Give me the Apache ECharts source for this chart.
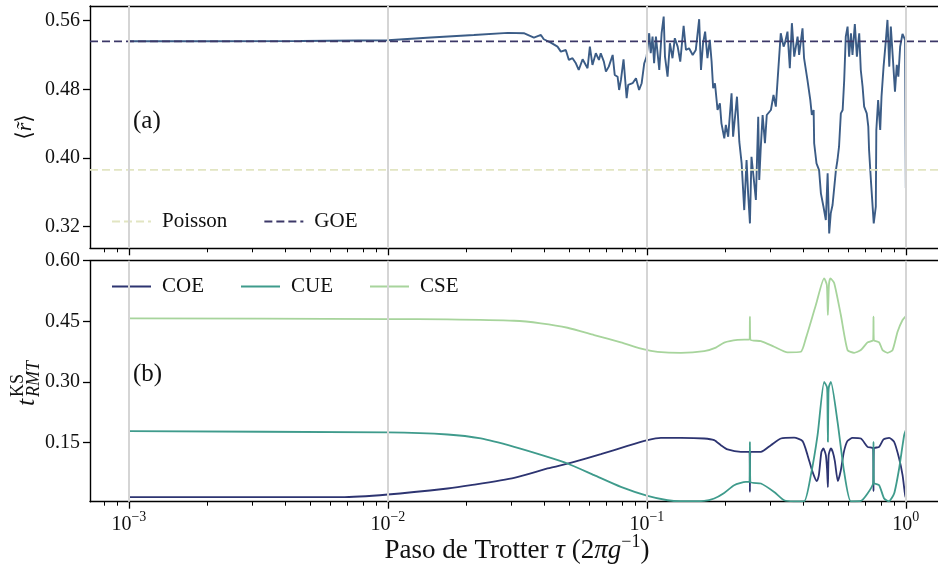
<!DOCTYPE html>
<html><head><meta charset="utf-8">
<script src="https://cdn.jsdelivr.net/npm/echarts@6/dist/echarts.min.js"></script>
<style>html,body{margin:0;padding:0;background:#fff;overflow:hidden;width:938px;height:568px}#c{width:960px;height:568px}</style>
</head><body><div id="c"></div>
<script>
const FONT = '"Liberation Serif", "DejaVu Serif", serif';

// x axis: log10(tau)
const xMin = -3.15, xMax = 0.15;
const xMajor = [-3, -2, -1, 0];
const xMajorExp = ['\u22123', '\u22122', '\u22121', '0'];
const minorFactors = [2, 3, 4, 5, 6, 7, 8, 9];
const decades = [-4, -3, -2, -1];

const yTopTicks = [0.32, 0.40, 0.48, 0.56];
const yBotTicks = [0.15, 0.30, 0.45, 0.60];
const poissonR = 0.3863;
const goeR = 0.5359;

// panel (a): <r~> vs log10(tau)
const rLogTau = [-3.0,-2.722,-2.336,-2.0,-1.834,-1.668,-1.537,-1.475,-1.436,-1.409,
-1.398,-1.371,-1.345,-1.332,-1.313,-1.301,-1.287,-1.274,-1.263,-1.248,
-1.229,-1.220,-1.210,-1.197,-1.185,-1.178,-1.166,-1.158,-1.147,-1.132,
-1.124,-1.113,-1.107,-1.100,-1.090,-1.078,-1.072,-1.055,-1.042,-1.030,
-1.020,-1.010,-1.001,-0.991,-0.985,-0.978,-0.972,-0.965,-0.952,-0.943,
-0.935,-0.930,-0.920,-0.911,-0.901,-0.892,-0.881,-0.871,-0.858,-0.849,
-0.837,-0.823,-0.811,-0.798,-0.791,-0.783,-0.775,-0.766,-0.757,-0.750,
-0.744,-0.737,-0.727,-0.718,-0.712,-0.701,-0.695,-0.686,-0.673,-0.667,
-0.652,-0.643,-0.634,-0.624,-0.615,-0.609,-0.602,-0.596,-0.588,-0.579,
-0.570,-0.566,-0.560,-0.553,-0.544,-0.537,-0.521,-0.511,-0.502,-0.493,
-0.483,-0.472,-0.467,-0.457,-0.448,-0.440,-0.431,-0.418,-0.412,-0.399,
-0.393,-0.380,-0.369,-0.363,-0.356,-0.354,-0.345,-0.335,-0.328,-0.318,
-0.309,-0.302,-0.296,-0.290,-0.283,-0.270,-0.264,-0.258,-0.251,-0.244,
-0.238,-0.232,-0.225,-0.219,-0.212,-0.206,-0.197,-0.189,-0.180,-0.174,
-0.167,-0.161,-0.151,-0.145,-0.142,-0.135,-0.124,-0.116,-0.114,-0.107,
-0.099,-0.094,-0.086,-0.077,-0.071,-0.064,-0.058,-0.051,-0.042,-0.035,
-0.029,-0.022,-0.013,-0.003,0.0];
const rMean = [0.536,0.536,0.5363,0.5371,0.5404,0.5433,0.5457,0.5453,0.5402,0.5433,
0.5383,0.5344,0.5297,0.5239,0.5258,0.5142,0.5162,0.5103,0.5025,0.515,
0.5045,0.5297,0.5084,0.522,0.5142,0.522,0.5122,0.5006,0.5064,0.520,
0.4967,0.4947,0.4792,0.4909,0.515,0.4696,0.4851,0.4871,0.4929,0.4792,
0.4871,0.5104,0.5181,0.5453,0.522,0.5413,0.5104,0.5413,0.5025,0.5453,
0.5646,0.5181,0.4947,0.5337,0.5162,0.5395,0.5297,0.5122,0.5538,0.5258,
0.5278,0.52,0.5258,0.5616,0.5025,0.5337,0.5472,0.5162,0.5375,0.5122,
0.4812,0.4871,0.4559,0.4637,0.4404,0.423,0.4385,0.4248,0.4754,0.4248,
0.4714,0.419,0.3938,0.3394,0.3977,0.3589,0.3239,0.4015,0.3782,0.3511,
0.4481,0.3744,0.4132,0.4501,0.4172,0.4501,0.4559,0.4734,0.4598,0.5006,
0.5453,0.5297,0.5337,0.5472,0.5045,0.557,0.5181,0.5413,0.52,0.5511,
0.5162,0.4909,0.4676,0.4501,0.4559,0.4172,0.3938,0.386,0.3589,0.3433,
0.3278,0.3822,0.3123,0.3356,0.3453,0.386,0.3977,0.4132,0.452,0.4559,
0.4909,0.5413,0.553,0.5181,0.5453,0.52,0.5561,0.5181,0.5453,0.5025,
0.483,0.4598,0.452,0.4365,0.4093,0.3744,0.3239,0.3433,0.4326,0.4676,
0.4326,0.4714,0.5064,0.5375,0.5608,0.5064,0.553,0.52,0.4773,0.5084,
0.4948,0.5297,0.5445,0.5375,0.3647];

// panel (b): KS statistic vs log10(tau)
const coeLogTau = [-3.0,-2.1815,-2.0,-1.7695,-1.6795,-1.5123,-1.3834,-1.2807,-1.1776,-1.0745,
-0.9973,-0.9459,-0.8687,-0.7788,-0.7401,-0.7143,-0.6884,-0.6371,-0.6035,-0.6021,
-0.6005,-0.5598,-0.5212,-0.4826,-0.4313,-0.3988,-0.3795,-0.3602,-0.3436,-0.3359,
-0.3262,-0.3185,-0.3089,-0.3040,-0.3010,-0.2980,-0.2896,-0.2818,-0.2741,-0.2625,
-0.2510,-0.2394,-0.2259,-0.2058,-0.1737,-0.1479,-0.1262,-0.1249,-0.1236,-0.1031,
-0.0861,-0.0645,-0.0452,-0.0259,-0.0127,-0.0054,-0.0019,0.0];
const coeVal = [0.0141,0.0141,0.0208,0.0357,0.0439,0.0620,0.0853,0.1016,0.1207,0.1413,
0.1554,0.1611,0.1611,0.1596,0.1554,0.1430,0.1324,0.1264,0.1264,0.0272,
0.1264,0.1264,0.1430,0.1596,0.1616,0.1530,0.1183,0.0768,0.0538,0.0687,
0.1257,0.1348,0.1183,0.0810,0.0389,0.1183,0.1348,0.1257,0.1034,0.0538,
0.0810,0.1257,0.1530,0.1611,0.1596,0.1388,0.1348,0.0290,0.1348,0.1388,
0.1572,0.1611,0.1512,0.1100,0.0687,0.0315,0.0141,0.0414];

const cueLogTau = [-3.0,-2.0,-1.7695,-1.6409,-1.5123,-1.3834,-1.3062,-1.2035,-1.1004,-0.9973,
-0.9201,-0.8687,-0.7788,-0.7401,-0.7015,-0.6629,-0.6178,-0.6035,-0.6021,-0.6005,
-0.5598,-0.5085,-0.4699,-0.4313,-0.3927,-0.3668,-0.3409,-0.3154,-0.3050,-0.3031,
-0.3010,-0.2989,-0.2970,-0.2896,-0.2637,-0.2382,-0.2123,-0.1737,-0.1479,-0.1262,
-0.1249,-0.1236,-0.1031,-0.0838,-0.0656,-0.0452,-0.0259,-0.0066,0.0,0.0];
const cueVal = [0.1777,0.1745,0.1695,0.1596,0.1388,0.1140,0.0976,0.0687,0.0396,0.0173,
0.0066,0.0042,0.005,0.0109,0.0247,0.0439,0.0520,0.0520,0.1512,0.0520,
0.0481,0.0272,0.0066,0.004,0.004,0.0687,0.1678,0.2999,0.2876,0.272,
0.1512,0.272,0.2876,0.2999,0.2008,0.0768,0.004,0.005,0.0233,0.0495,
0.1512,0.0495,0.0439,0.0109,0.004,0.0233,0.0853,0.1678,0.1802,0.1473];

const cseLogTau = [-3.0,-2.0,-1.7695,-1.5123,-1.4093,-1.3062,-1.2035,-1.1004,-1.0104,-0.9587,
-0.8687,-0.7788,-0.7336,-0.7015,-0.6498,-0.6035,-0.6021,-0.6005,-0.5598,-0.5085,
-0.4567,-0.4054,-0.3861,-0.3475,-0.3154,-0.3050,-0.3010,-0.2970,-0.2915,-0.2768,
-0.2510,-0.2251,-0.1996,-0.1737,-0.1479,-0.1262,-0.1249,-0.1236,-0.1031,-0.0900,
-0.0706,-0.0513,-0.0320,-0.0127,0.0];
const cseVal = [0.4572,0.4555,0.4547,0.4512,0.4448,0.4339,0.4158,0.3977,0.3803,0.3744,
0.3719,0.3761,0.3848,0.3972,0.4039,0.4046,0.4611,0.4046,0.4009,0.3868,
0.3729,0.3744,0.4076,0.4902,0.5564,0.5397,0.4654,0.5397,0.5564,0.5447,
0.4654,0.3786,0.3719,0.3786,0.3977,0.4034,0.4611,0.4034,0.3977,0.3786,
0.3719,0.3786,0.4240,0.4530,0.4629];

const C = {
  r: '#3b5c86', goe: '#3c3868', poisson: '#e2e5c2',
  coe: '#2d3471', cue: '#3f9b8c', cse: '#a7d49c', grid: '#d5d5d5'
};

const xMinor = [];
decades.forEach(d => minorFactors.forEach(f => {
  const v = d + Math.log10(f);
  if (v > xMin && v < xMax) xMinor.push(v);
}));

const zip = (a, b) => a.map((v, i) => [v, b[i]]);
const spine = { show: true, onZero: false, lineStyle: { color: '#000', width: 1.4 } };

function xAxes(gi, withLabels) {
  return [{
    gridIndex: gi, type: 'value', min: xMin, max: xMax, position: 'bottom',
    axisLine: spine,
    axisTick: { show: true, customValues: xMajor, length: 7, lineStyle: { color: '#000', width: 1.3 } },
    axisLabel: withLabels ? {
      show: true, customValues: xMajor, margin: 9,
      formatter: v => '{b|10}{s|' + xMajorExp[xMajor.indexOf(Math.round(v))] + '}',
      rich: {
        b: { fontFamily: FONT, fontSize: 20, color: '#111', lineHeight: 24, verticalAlign: 'bottom' },
        s: { fontFamily: FONT, fontSize: 14, color: '#111', lineHeight: 14, verticalAlign: 'top' }
      }
    } : { show: false },
    splitLine: { show: false }
  }, {
    gridIndex: gi, type: 'value', min: xMin, max: xMax, position: 'bottom', offset: 0,
    axisLine: { show: false, onZero: false },
    axisTick: { show: true, customValues: xMinor, length: 4, lineStyle: { color: '#000', width: 1 } },
    axisLabel: { show: false },
    splitLine: { show: false }
  }, {
    gridIndex: gi, type: 'value', min: xMin, max: xMax, position: 'top', offset: 0,
    axisLine: spine,
    axisTick: { show: false },
    axisLabel: { show: false },
    splitLine: { show: false }
  }];
}

function yAxis(gi, min, max, ticks) {
  return {
    gridIndex: gi, type: 'value', min: min, max: max, position: 'left',
    axisLine: spine,
    axisTick: { show: true, customValues: ticks, length: 7, lineStyle: { color: '#000', width: 1.3 } },
    axisLabel: { show: true, customValues: ticks, margin: 10, formatter: v => v.toFixed(2),
      fontFamily: FONT, fontSize: 20, color: '#111' },
    splitLine: { show: false }
  };
}

function gridLineSeries(xi, yi) {
  return {
    type: 'line', xAxisIndex: xi, yAxisIndex: yi, data: [], silent: true, z: 1,
    markLine: {
      silent: true, symbol: ['none', 'none'], label: { show: false },
      lineStyle: { color: C.grid, width: 2, type: 'solid' },
      emphasis: { disabled: true },
      data: xMajor.map(v => ({ xAxis: v }))
    }
  };
}

function lineSeries(name, data, color, xi, yi, extra) {
  return Object.assign({
    name: name, type: 'line', xAxisIndex: xi, yAxisIndex: yi, data: data,
    showSymbol: false, symbol: 'none', z: 3,
    lineStyle: { color: color, width: 1.8 }, itemStyle: { color: color },
    emphasis: { disabled: true }
  }, extra || {});
}

const legendCommon = {
  itemWidth: 39, itemHeight: 14, itemGap: 36,
  itemStyle: { opacity: 0, borderWidth: 0 },
  textStyle: { fontFamily: FONT, fontSize: 21, color: '#111', padding: [0, 0, 0, 6] }
};

const chart = echarts.init(document.getElementById('c'), null, { renderer: 'canvas' });
chart.setOption({
  animation: false,
  backgroundColor: '#fff',
  grid: [
    { left: 90, top: 6, width: 854.7, height: 242.3, show: false },
    { left: 90, top: 260.7, width: 854.7, height: 241, show: false }
  ],
  xAxis: [].concat(xAxes(0, false), xAxes(1, true)),
  yAxis: [yAxis(0, 0.2949, 0.577, yTopTicks), yAxis(1, 0.003, 0.60, yBotTicks)],
  legend: [
    Object.assign({ data: ['Poisson', 'GOE'], left: 106, top: 206 }, legendCommon),
    Object.assign({ data: ['COE', 'CUE', 'CSE'], left: 106, top: 271 }, legendCommon)
  ],
  series: [
    gridLineSeries(0, 0),
    gridLineSeries(3, 1),
    lineSeries('r', zip(rLogTau, rMean), C.r, 0, 0, { z: 3, lineStyle: { color: C.r, width: 1.9 } }),
    lineSeries('Poisson', [[xMin, poissonR], [xMax, poissonR]], C.poisson, 0, 0, { z: 4, lineStyle: { color: C.poisson, width: 1.8, type: [8, 4] } }),
    lineSeries('GOE', [[xMin, goeR], [xMax, goeR]], C.goe, 0, 0, { z: 4, lineStyle: { color: C.goe, width: 1.8, type: [8, 4] } }),
    lineSeries('COE', zip(coeLogTau, coeVal), C.coe, 3, 1, { smooth: 0.2 }),
    lineSeries('CUE', zip(cueLogTau, cueVal), C.cue, 3, 1, { smooth: 0.2 }),
    lineSeries('CSE', zip(cseLogTau, cseVal), C.cse, 3, 1, { smooth: 0.2 })
  ],
  graphic: [
    { type: 'text', x: 133, y: 121, style: { text: '(a)', fontFamily: FONT, fontSize: 25, fill: '#111', align: 'left', verticalAlign: 'middle' } },
    { type: 'text', x: 133, y: 374, style: { text: '(b)', fontFamily: FONT, fontSize: 25, fill: '#111', align: 'left', verticalAlign: 'middle' } },
    { type: 'group', x: 25, y: 127, rotation: Math.PI / 2, children: [
      { type: 'text', x: 0, y: 0, style: { text: '\u27e8{i|r\u0303}\u27e9', fontFamily: FONT, fontSize: 22, fill: '#111', align: 'center', verticalAlign: 'middle',
        rich: { i: { fontFamily: FONT, fontSize: 22, fontStyle: 'italic', fill: '#111' } } } }
    ] },
    { type: 'group', x: 26, y: 382, rotation: Math.PI / 2, children: [
      { type: 'text', x: -24, y: 1, style: { text: 't', fontFamily: FONT, fontSize: 26, fontStyle: 'italic', fill: '#111', align: 'left', verticalAlign: 'middle' } },
      { type: 'text', x: -15, y: -8, style: { text: 'KS', fontFamily: FONT, fontSize: 18, fill: '#111', align: 'left', verticalAlign: 'middle' } },
      { type: 'text', x: -15, y: 8, style: { text: 'RMT', fontFamily: FONT, fontSize: 18, fontStyle: 'italic', fill: '#111', align: 'left', verticalAlign: 'middle' } }
    ] },
    { type: 'text', x: 517, y: 549, style: {
      text: '{n|Paso de Trotter }{i|\u03c4}{n| (2}{i|\u03c0g}{s|\u22121}{n|)}',
      align: 'center', verticalAlign: 'middle', fill: '#111', fontFamily: FONT, fontSize: 27,
      rich: {
        n: { fontFamily: FONT, fontSize: 27, lineHeight: 31, verticalAlign: 'bottom', fill: '#111' },
        i: { fontFamily: FONT, fontSize: 27, lineHeight: 31, fontStyle: 'italic', verticalAlign: 'bottom', fill: '#111' },
        s: { fontFamily: FONT, fontSize: 18, lineHeight: 18, verticalAlign: 'top', fill: '#111' }
      } } }
  ]
});
</script>
</body></html>
